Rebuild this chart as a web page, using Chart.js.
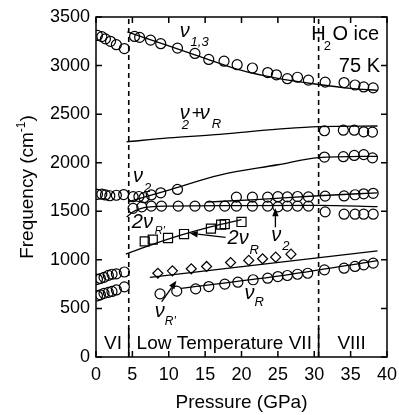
<!DOCTYPE html>
<html><head><meta charset="utf-8">
<script src="https://cdn.jsdelivr.net/npm/chart.js@4/dist/chart.umd.min.js"></script>
<style>html,body{margin:0;padding:0;background:#fff}canvas{display:block}</style>
</head><body>
<canvas id="c" width="399" height="415"></canvas>
<script>
// ---- axis ticks ----
const pressureTicks = [0,5,10,15,20,25,30,35,40];
const freqTicks = [0,500,1000,1500,2000,2500,3000,3500];
const phaseBoundaries = [4.5, 30.6];

// ---- measured points [pressure (GPa), frequency (cm-1)] ----
const nu13VI = [[0.2,3310],[0.8,3298],[1.3,3275],[2.0,3250],[2.8,3215],[3.9,3175]];
const nu13VII = [[5.3,3300],[6.0,3290],[7.5,3262],[8.9,3225],[11.2,3180],[13.6,3125],[15.5,3063],[17.6,3045],[19.4,3009],[21.5,2975],[23.6,2928],[24.8,2905],[26.3,2865],[27.7,2880],[29.2,2850],[31.5,2830],[34.1,2825],[35.6,2800],[36.8,2780],[38.1,2770]];
const comb2340VIII = [[31.4,2329],[34.0,2335],[35.5,2335],[36.8,2318],[38.0,2315]];
const band2070VIII = [[31.4,2058],[34.0,2062],[35.5,2075],[36.8,2083],[38.0,2050]];
const nu2VI = [[0.2,1675],[0.8,1676],[1.3,1668],[1.9,1660],[2.8,1665],[3.8,1672]];
const nu2VII = [[5.1,1650],[5.9,1652],[6.6,1640],[7.6,1668],[8.9,1690],[11.2,1725]];
const band1650 = [[19.3,1646],[21.5,1646],[23.6,1646],[25.0,1650],[26.3,1648],[27.7,1652],[29.2,1648],[31.5,1656],[34.1,1658],[35.6,1670],[36.8,1680],[38.1,1685]];
const band1550 = [[5.1,1530],[6.3,1545],[7.6,1553],[9.0,1553],[11.3,1553],[13.6,1553],[15.6,1553],[17.7,1553],[19.3,1553],[21.5,1553],[23.6,1553],[25.0,1545],[26.3,1553],[27.7,1553],[29.2,1553]];
const band1470VIII = [[31.5,1494],[34.1,1470],[35.6,1470],[36.8,1470],[38.1,1470]];
const twoNuRSquares = [[6.7,1190],[7.8,1208],[9.9,1225],[12.1,1266],[15.8,1322],[17.2,1363],[17.7,1369],[20.0,1390]];
const nuRDiamonds = [[8.5,862],[10.5,887],[13.1,908],[15.2,932],[18.5,973],[21.0,994],[22.9,1011],[24.7,1028],[26.8,1059]];
const nuRCircles = [[8.8,650],[11.1,678],[13.7,701],[15.5,725],[17.7,750],[19.5,770],[21.6,795],[23.6,811],[25.0,828],[26.3,839],[27.7,852],[29.1,862],[31.4,897],[34.1,914],[35.6,932],[36.8,949],[38.1,966]];
const libVIupper = [[0.2,800],[0.6,808],[1.1,820],[1.7,840],[2.2,852],[2.8,856],[3.9,875]];
const libVIlower = [[0.2,630],[0.6,640],[1.1,655],[1.7,665],[2.2,675],[2.8,690],[3.9,722]];

// ---- fitted curves ----
const curveNu13 = [[4.3,3347],[10,3202],[15,3075],[20,2950],[25,2868],[30.6,2805],[35,2765],[38.7,2745]];
const curveNu2NuR = [[4.2,2215],[10,2255],[17,2292],[25,2345],[30.6,2372],[38.7,2378]];
const curveNu2 = [[4.4,1596],[10,1719],[17,1873],[25,1979],[30.6,2053],[38.7,2066]];
const curve1550 = [[4.2,1440],[5,1490],[6,1525],[7.5,1545],[10,1553],[20,1558],[30.6,1560],[38.7,1548]];
const curve1650 = [[15.2,1595],[22,1620],[30.6,1660],[38.7,1690]];
const curve2NuR = [[4.1,1060],[8,1165],[12,1262],[16,1345],[20,1415]];
const curveNuRp = [[7.4,820],[38.7,1092]];
const curveNuR = [[11.7,707],[25,832],[38.7,992]];

const FONT = '"Liberation Sans", Arial, Helvetica, sans-serif';
const toXY = a => a.map(([x,y]) => ({x, y}));

function marks(data, style, r) {
  return { data: toXY(data), showLine: false, pointStyle: style, pointRadius: r, pointHoverRadius: r,
           borderColor: '#000', backgroundColor: 'rgba(0,0,0,0)', pointBorderWidth: 1.2, borderWidth: 1.2 };
}
function curve(data) {
  return { data: toXY(data), showLine: true, pointRadius: 0, pointHoverRadius: 0, borderColor: '#000',
           borderWidth: 1.3, cubicInterpolationMode: 'monotone', fill: false };
}
const datasets = [
  ...[curveNu13, curveNu2NuR, curveNu2, curve1550, curve1650, curve2NuR, curveNuRp, curveNuR].map(curve),
  ...phaseBoundaries.map(b => ({ data: [{x:b,y:0},{x:b,y:3500}], showLine: true, pointRadius: 0, borderColor: '#000', borderWidth: 1.6, borderDash: [5,4] })),
  ...phaseBoundaries.map(b => ({ data: [{x:b,y:0},{x:b,y:300}], showLine: true, pointRadius: 0, borderColor: '#000', borderWidth: 1.6 })),
  ...[nu13VI, nu13VII, comb2340VIII, band2070VIII, nu2VI, nu2VII, band1650, band1550, band1470VIII, nuRCircles, libVIupper, libVIlower].map(d => marks(d, 'circle', 5)),
  marks(twoNuRSquares, 'rect', 6.4),
  marks(nuRDiamonds, 'rectRot', 5)
];

// ---- annotation texts: [text, P, F, font, align] (left/baseline in data space) ----
const NU = 'italic 20px ' + FONT, SUB = 'italic 13px ' + FONT, TXT = '20px ' + FONT, SMALL = 'italic 11px ' + FONT;
const texts = [
  ['ν', 11.5, 3292, NU], ['1,3', 13.0, 3199, SUB],
  ['H', 29.6, 3261, TXT], ['2', 31.3, 3157, '13px ' + FONT], ['O ice', 32.5, 3261, TXT],
  ['75 K', 39.04, 2930, TXT, 'right'],
  ['ν', 11.5, 2453, NU], ['2', 11.8, 2350, SUB], ['+', 13.15, 2453, '18px ' + FONT], ['ν', 14.25, 2453, NU], ['R', 15.9, 2360, SUB],
  ['ν', 5.07, 1801, NU], ['2', 6.6, 1698, SUB],
  ['2ν', 4.93, 1325, NU], ["R'", 8.08, 1263, SMALL],
  ['2ν', 18.08, 1159, NU], ['R', 21.1, 1056, SUB],
  ['ν', 24.1, 1190, NU], ['2', 25.6, 1097, SUB],
  ['ν', 20.4, 600, NU], ['R', 21.8, 528, SUB],
  ['ν', 8.08, 414, NU], ["R'", 9.45, 331, 'italic 12px ' + FONT],
  ['VI', 2.33, 83, '19px ' + FONT, 'center'],
  ['Low Temperature VII', 17.63, 83, '19px ' + FONT, 'center'],
  ['VIII', 35.14, 83, '19px ' + FONT, 'center']
];
// arrows: [tailP, tailF, headP, headF]
const arrows = [[17.8,1232,12.88,1273],[24.66,1335,24.66,1532],[9.04,569,11.05,784]];

const decor = {
  id: 'decor',
  afterDraw(chart) {
    const {ctx, chartArea: a, scales: {x, y}} = chart;
    ctx.save();
    ctx.strokeStyle = '#000'; ctx.fillStyle = '#000';
    ctx.lineWidth = 1.5;
    ctx.strokeRect(a.left, a.top, a.right - a.left, a.bottom - a.top);
    const L = 6;
    ctx.beginPath();
    pressureTicks.forEach(v => { const px = x.getPixelForValue(v);
      ctx.moveTo(px, a.bottom); ctx.lineTo(px, a.bottom - L);
      ctx.moveTo(px, a.top); ctx.lineTo(px, a.top + L); });
    freqTicks.forEach(v => { const py = y.getPixelForValue(v);
      ctx.moveTo(a.left, py); ctx.lineTo(a.left + L, py);
      ctx.moveTo(a.right, py); ctx.lineTo(a.right - L, py); });
    ctx.stroke();
    ctx.textBaseline = 'alphabetic';
    texts.forEach(([t, P, F, font, align]) => {
      ctx.font = font; ctx.textAlign = align || 'left';
      ctx.fillText(t, x.getPixelForValue(P), y.getPixelForValue(F));
    });
    ctx.lineWidth = 1.3;
    arrows.forEach(([p0, f0, p1, f1]) => {
      const x0 = x.getPixelForValue(p0), y0 = y.getPixelForValue(f0);
      const x1 = x.getPixelForValue(p1), y1 = y.getPixelForValue(f1);
      const ang = Math.atan2(y1 - y0, x1 - x0), hl = 8, hw = 3.2;
      const bx = x1 - hl * Math.cos(ang), by = y1 - hl * Math.sin(ang);
      ctx.beginPath(); ctx.moveTo(x0, y0); ctx.lineTo(bx, by); ctx.stroke();
      ctx.beginPath(); ctx.moveTo(x1, y1);
      ctx.lineTo(bx + hw * Math.sin(ang), by - hw * Math.cos(ang));
      ctx.lineTo(bx - hw * Math.sin(ang), by + hw * Math.cos(ang));
      ctx.closePath(); ctx.fill();
    });
    const cy = (a.top + a.bottom) / 2, cx = 28;
    ctx.translate(cx, cy); ctx.rotate(-Math.PI / 2);
    const big = '19px ' + FONT, sup = '12px ' + FONT;
    ctx.font = big; const w1 = ctx.measureText('Frequency (cm').width, w3 = ctx.measureText(')').width;
    ctx.font = sup; const w2 = ctx.measureText('-1').width;
    let sx = -(w1 + w2 + w3) / 2;
    ctx.textAlign = 'left'; ctx.textBaseline = 'middle';
    ctx.font = big; ctx.fillText('Frequency (cm', sx, 0); sx += w1;
    ctx.font = sup; ctx.fillText('-1', sx, -6); sx += w2;
    ctx.font = big; ctx.fillText(')', sx, 0);
    ctx.restore();
  }
};

new Chart(document.getElementById('c'), {
  type: 'scatter',
  data: { datasets },
  options: {
    responsive: false, animation: false, devicePixelRatio: 1,
    layout: { padding: { top: 17, right: 12, left: 0, bottom: 0 } },
    plugins: { legend: { display: false }, tooltip: { enabled: false } },
    scales: {
      x: { type: 'linear', min: 0, max: 40,
           afterBuildTicks: s => { s.ticks = pressureTicks.map(v => ({value: v})); },
           afterFit: s => { s.height = 58; s.paddingLeft = 0; s.paddingRight = 0; },
           grid: { display: false, drawTicks: false }, border: { display: false },
           ticks: { color: '#000', font: { family: FONT, size: 18 }, padding: 7, maxRotation: 0, callback: v => String(v) },
           title: { display: true, text: 'Pressure (GPa)', color: '#000', font: { family: FONT, size: 19 }, padding: { top: 0, bottom: 1 } } },
      y: { type: 'linear', min: 0, max: 3500,
           afterBuildTicks: s => { s.ticks = freqTicks.map(v => ({value: v})); },
           afterFit: s => { s.width = 96; s.paddingTop = 0; s.paddingBottom = 0; },
           grid: { display: false, drawTicks: false }, border: { display: false },
           ticks: { color: '#000', font: { family: FONT, size: 18 }, padding: 6, callback: v => String(v) } }
    }
  },
  plugins: [decor]
});
</script>
</body></html>
